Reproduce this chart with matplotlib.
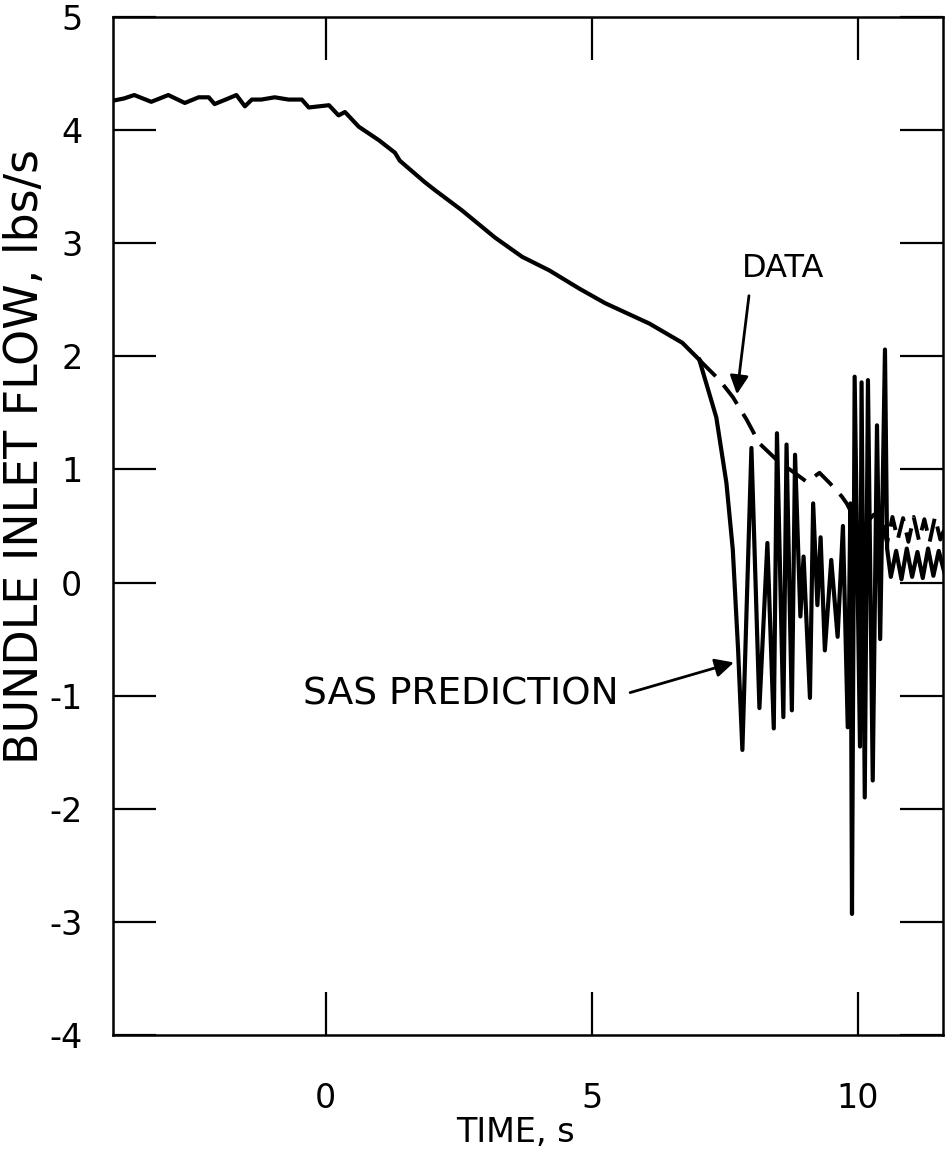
import numpy as np
import matplotlib
matplotlib.use("Agg")
import matplotlib.pyplot as plt

plt.rcParams['font.family'] = ['DejaVu Sans']
plt.rcParams['axes.unicode_minus'] = False

# shared trace before the two curves split (t in s, flow in lbs/s)
early_t = [-4.0, -3.79, -3.60, -3.28, -2.96, -2.65, -2.39, -2.20, -2.09, -1.83, -1.68,
           -1.52, -1.39, -1.21, -0.96, -0.70, -0.45, -0.32, 0.06, 0.24, 0.36, 0.62,
           1.00, 1.30, 1.39, 1.86, 2.05, 2.56, 3.18, 3.69, 4.20, 4.76, 5.25, 6.08,
           6.70, 7.02]
early_flow = [4.26, 4.28, 4.31, 4.25, 4.31, 4.24, 4.29, 4.29, 4.23, 4.28, 4.31,
              4.21, 4.27, 4.27, 4.29, 4.27, 4.27, 4.20, 4.22, 4.13, 4.16, 4.03,
              3.91, 3.80, 3.73, 3.54, 3.47, 3.29, 3.05, 2.88, 2.76, 2.60, 2.47, 2.29,
              2.12, 1.97]

# SAS prediction after the split
sas_t = [7.34, 7.53, 7.65, 7.75, 7.83, 8.00, 8.15, 8.30, 8.42, 8.48, 8.60, 8.66,
         8.76, 8.82, 8.92, 8.98, 9.10, 9.16, 9.24, 9.30, 9.38, 9.50, 9.62, 9.72,
         9.81, 9.86, 9.89, 9.94, 10.04, 10.07, 10.13, 10.19, 10.28, 10.36, 10.42,
         10.51, 10.55, 10.62, 10.72, 10.82, 10.92, 11.02, 11.12, 11.22, 11.32,
         11.42, 11.52, 11.62]
sas_flow = [1.46, 0.88, 0.29, -0.60, -1.48, 1.19, -1.11, 0.35, -1.29, 1.32, -1.19, 1.22,
            -1.13, 1.13, -0.30, 0.23, -1.02, 0.70, -0.20, 0.40, -0.60, 0.20, -0.48, 0.50,
            -1.28, 0.70, -2.93, 1.82, -1.45, 1.77, -1.90, 1.79, -1.75, 1.39, -0.50,
            2.06, 0.30, 0.05, 0.28, 0.03, 0.30, 0.05, 0.27, 0.04, 0.30,
            0.06, 0.28, 0.10]

# measured data after the split
data_t = [7.08, 7.40, 7.65, 7.91, 8.15, 8.53, 8.78, 9.04, 9.28, 9.47, 9.70, 9.79,
          9.90, 10.10, 10.30, 10.45, 10.55, 10.65, 10.75, 10.85, 10.95, 11.05,
          11.15, 11.25, 11.35, 11.45, 11.55, 11.65]
data_flow = [1.94, 1.79, 1.64, 1.44, 1.23, 1.06, 0.98, 0.89, 0.97, 0.88, 0.76, 0.70,
             0.60, 0.50, 0.60, 0.55, 0.35, 0.58, 0.38, 0.57, 0.36, 0.58,
             0.37, 0.56, 0.36, 0.58, 0.38, 0.50]

x_ticks = [0, 5, 10]
y_ticks = [-4, -3, -2, -1, 0, 1, 2, 3, 4, 5]

fig = plt.figure(figsize=(9.5, 11.56), dpi=100)
ax = fig.add_axes([0.1189, 0.1047, 0.8737, 0.8806])

ax.plot(early_t, early_flow, color='black', lw=3, solid_joinstyle='round')
ax.plot([early_t[-1]] + sas_t, [early_flow[-1]] + sas_flow, color='black', lw=3,
        solid_joinstyle='round')
ax.plot([early_t[-1]] + data_t, [early_flow[-1]] + data_flow, color='black', lw=2.8,
        dashes=(6, 3))

ax.set_xlim(-4.0, 11.6)
ax.set_ylim(-4, 5)
ax.set_xticks(x_ticks)
ax.set_yticks(y_ticks)
ax.tick_params(axis='both', which='major', direction='in', length=31, width=1.6,
               top=True, right=True, labelsize=24)
ax.tick_params(axis='x', pad=34)
ax.tick_params(axis='y', pad=22)
for s in ax.spines.values():
    s.set_linewidth(1.8)

fig.text(515 / 950, 1 - 1133 / 1156, 'TIME, s', fontsize=24, ha='center', va='center')
fig.text(26 / 950, 1 - 457 / 1156, 'BUNDLE INLET FLOW, lbs/s', fontsize=33,
         rotation=90, ha='center', va='center')

ax.text(8.6, 2.78, 'DATA', fontsize=23, ha='center', va='center')
ax.annotate('', xy=(7.72, 1.64), xytext=(7.96, 2.56),
            arrowprops=dict(arrowstyle='-|>', color='black', lw=2, mutation_scale=28))
ax.text(2.54, -0.99, 'SAS PREDICTION', fontsize=27, ha='center', va='center')
ax.annotate('', xy=(7.72, -0.70), xytext=(5.67, -0.98),
            arrowprops=dict(arrowstyle='-|>', color='black', lw=2, mutation_scale=28))

fig.savefig('out.png', dpi=100)
